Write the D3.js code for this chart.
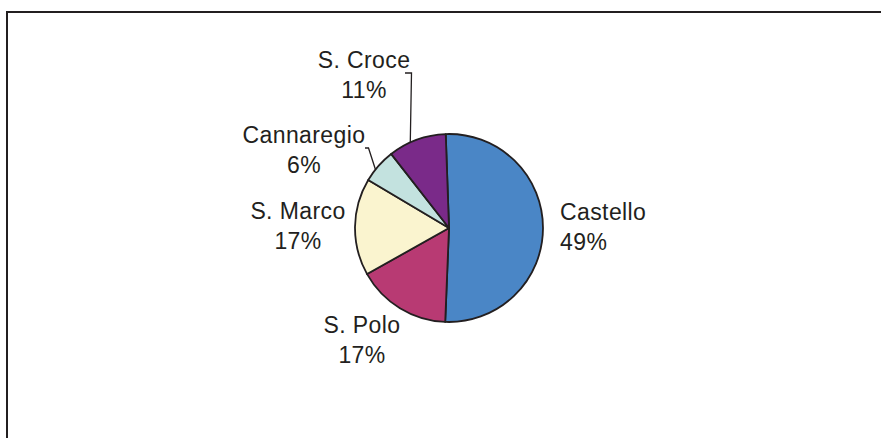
<!DOCTYPE html>
<html>
<head>
<meta charset="utf-8">
<script src="https://cdn.jsdelivr.net/npm/d3@7"></script>
<style>
    body { margin: 0; background: #fff; }
    svg { display: block; }
    text { font-family: "Liberation Sans", Arial, Helvetica, sans-serif; fill: #231f20; }
</style>
</head>
<body>
<svg id="chart" width="881" height="438"></svg>
<script>
// sestieri of Venice, slice sizes as drawn, printed percentages
const districts = ["Castello", "S. Polo", "S. Marco", "Cannaregio", "S. Croce"];
const shares = [51.2, 16.2, 16.7, 5.9, 10.0];
const pctLabels = ["49%", "17%", "17%", "6%", "11%"];
const colors = ["#4a86c6", "#b83a73", "#faf4cf", "#c3e2df", "#7a2a89"];

// where each label block sits (x, first baseline, anchor)
const labelAt = [
    { x: 560, y: 220, anchor: "start" },
    { x: 362, y: 333, anchor: "middle" },
    { x: 298, y: 219, anchor: "middle" },
    { x: 304, y: 143, anchor: "middle" },
    { x: 364, y: 68, anchor: "middle" }
];

const svg = d3.select("#chart");
const cx = 449, cy = 228, radius = 94;
const lineGap = 30;

// frame (only top and left edges are inside the picture)
svg.append("rect")
    .attr("x", 7).attr("y", 12)
    .attr("width", 900).attr("height", 460)
    .attr("fill", "none")
    .attr("stroke", "#231f20")
    .attr("stroke-width", 2);

const data = districts.map((d, i) => ({ name: d, value: shares[i], pct: pctLabels[i], color: colors[i], pos: labelAt[i] }));

const pie = d3.pie()
    .sort(null)
    .value(d => d.value)
    .startAngle(-2 * Math.PI / 180)
    .endAngle(2 * Math.PI - 2 * Math.PI / 180);

const arc = d3.arc().innerRadius(0).outerRadius(radius);
const arcs = pie(data);

const g = svg.append("g").attr("transform", `translate(${cx},${cy})`);
g.selectAll("path").data(arcs).join("path")
    .attr("d", arc)
    .attr("fill", d => d.data.color)
    .attr("stroke", "#231f20")
    .attr("stroke-width", 1.8)
    .attr("stroke-linejoin", "round");

// leader lines for the two small slices
const leader = d3.line();
function rimPoint(angle) {
    return [cx + Math.sin(angle) * radius, cy - Math.cos(angle) * radius];
}
const croce = arcs[4], canna = arcs[3];
const croceRim = rimPoint(croce.startAngle + (croce.endAngle - croce.startAngle) * 0.38);
const cannaRim = rimPoint((canna.startAngle + canna.endAngle) / 2 - 0.05);
svg.append("path")
    .attr("d", leader([[405, 73], [411.5, 73], croceRim]))
    .attr("fill", "none").attr("stroke", "#231f20").attr("stroke-width", 1.3);
svg.append("path")
    .attr("d", leader([[365, 148], [368.5, 148], cannaRim]))
    .attr("fill", "none").attr("stroke", "#231f20").attr("stroke-width", 1.3);

// labels
const labels = svg.selectAll("text.lbl").data(data).join("text")
    .attr("class", "lbl")
    .attr("font-size", 23)
    .attr("letter-spacing", 0.4)
    .attr("text-anchor", d => d.pos.anchor);
labels.append("tspan")
    .attr("x", d => d.pos.x).attr("y", d => d.pos.y)
    .text(d => d.name);
labels.append("tspan")
    .attr("x", d => d.pos.x).attr("y", d => d.pos.y + lineGap)
    .text(d => d.pct);
</script>
</body>
</html>
